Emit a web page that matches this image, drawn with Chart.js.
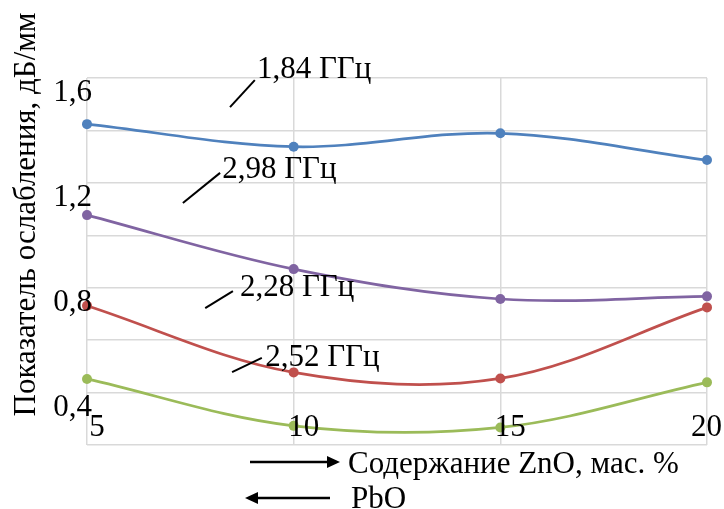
<!DOCTYPE html>
<html>
<head>
<meta charset="utf-8">
<script src="https://cdn.jsdelivr.net/npm/chart.js@4/dist/chart.umd.min.js"></script>
<style>
  html, body { margin: 0; padding: 0; background: #fff; }
  #wrap { width: 724px; height: 509px; }
</style>
</head>
<body>
<div id="wrap"><canvas id="chart" width="724" height="509"></canvas></div>
<script>
// ZnO content, mass %
const zno = [5, 10, 15, 20];

// attenuation, dB/mm
const f184 = [1.424, 1.338, 1.389, 1.287];
const f298 = [1.077, 0.871, 0.757, 0.767];
const f228 = [0.731, 0.477, 0.454, 0.725];
const f252 = [0.452, 0.273, 0.267, 0.439];

const yTickLabels = [1.6, 1.2, 0.8, 0.4];
const xTickLabels = [5, 10, 15, 20];

// series labels: text, text anchor (x, y), leader line from (x, y) to (x, y), in data units
const seriesNames = ['1,84 ГГц', '2,98 ГГц', '2,28 ГГц', '2,52 ГГц'];
const nameAnchorX = [9.11, 8.27, 8.70, 9.31];
const nameAnchorY = [1.600, 1.218, 0.768, 0.501];
const leaderX0 = [8.46, 7.32, 7.86, 8.51];
const leaderY0 = [1.489, 1.123, 0.722, 0.478];
const leaderX1 = [9.06, 8.22, 8.53, 9.23];
const leaderY1 = [1.592, 1.238, 0.787, 0.532];

const yTitle = 'Показатель ослабления, дБ/мм';
const xTitle = 'Содержание ZnO, мас. %';
const xTitle2 = 'PbO';

const FONT = '31px "Liberation Serif", "Times New Roman", serif';

const pts = ys => ys.map((y, i) => ({ x: zno[i], y }));

function series(data, color) {
  return {
    data: pts(data),
    borderColor: color,
    backgroundColor: color,
    borderWidth: 2.7,
    pointRadius: 5,
    pointHoverRadius: 5,
    pointBorderWidth: 0,
    tension: 0.35,
    clip: false
  };
}

function arrow(ctx, x0, x1, y) {
  const dir = Math.sign(x1 - x0);
  ctx.beginPath();
  ctx.moveTo(x0, y);
  ctx.lineTo(x1 - dir * 10, y);
  ctx.lineWidth = 2.5;
  ctx.strokeStyle = '#000';
  ctx.stroke();
  ctx.beginPath();
  ctx.moveTo(x1, y);
  ctx.lineTo(x1 - dir * 13, y - 6);
  ctx.lineTo(x1 - dir * 13, y + 6);
  ctx.closePath();
  ctx.fillStyle = '#000';
  ctx.fill();
}

const textPlugin = {
  id: 'texts',
  afterDatasetsDraw(chart) {
    const { ctx, chartArea: a, scales: { x, y } } = chart;
    ctx.save();
    ctx.font = FONT;
    ctx.fillStyle = '#000';

    // y tick labels
    ctx.textAlign = 'right';
    ctx.textBaseline = 'alphabetic';
    yTickLabels.forEach(v => {
      ctx.fillText(v.toFixed(1).replace('.', ','), a.left + 5, y.getPixelForValue(v) + 23);
    });

    // x tick labels, inside the plot
    ctx.textAlign = 'center';
    xTickLabels.forEach(v => {
      const s = String(v);
      const w = ctx.measureText(s).width;
      const cx = Math.min(x.getPixelForValue(v) + 10, chart.width - 2 - w / 2);
      ctx.fillText(s, cx, a.bottom - 9);
    });

    // series names with leader lines
    ctx.textAlign = 'left';
    ctx.strokeStyle = '#000';
    ctx.lineWidth = 2;
    seriesNames.forEach((n, i) => {
      ctx.beginPath();
      ctx.moveTo(x.getPixelForValue(leaderX0[i]), y.getPixelForValue(leaderY0[i]));
      ctx.lineTo(x.getPixelForValue(leaderX1[i]), y.getPixelForValue(leaderY1[i]));
      ctx.stroke();
      ctx.fillText(n, x.getPixelForValue(nameAnchorX[i]), y.getPixelForValue(nameAnchorY[i]));
    });

    // y axis title
    ctx.save();
    ctx.translate(35, (a.top + a.bottom) / 2 - 47);
    ctx.rotate(-Math.PI / 2);
    ctx.textAlign = 'center';
    ctx.fillText(yTitle, 0, 0);
    ctx.restore();

    // x axis titles with arrows
    arrow(ctx, 250, 340, a.bottom + 17);
    ctx.textAlign = 'left';
    ctx.fillText(xTitle, 348, a.bottom + 28);
    arrow(ctx, 330, 245, a.bottom + 53);
    ctx.fillText(xTitle2, 351, a.bottom + 63);

    ctx.restore();
  }
};

new Chart(document.getElementById('chart'), {
  type: 'line',
  data: {
    datasets: [
      series(f184, '#4F81BD'),
      series(f298, '#8064A2'),
      series(f228, '#C0504D'),
      series(f252, '#9BBB59')
    ]
  },
  options: {
    responsive: false,
    animation: false,
    layout: { padding: { left: 87, right: 17, top: 78, bottom: 64 } },
    plugins: { legend: { display: false }, tooltip: { enabled: false } },
    scales: {
      x: {
        type: 'linear',
        min: 5,
        max: 20,
        ticks: { display: false, stepSize: 5 },
        grid: { color: '#d9d9d9', lineWidth: 1.5, drawTicks: false },
        border: { display: false }
      },
      y: {
        min: 0.2,
        max: 1.6,
        ticks: { display: false, stepSize: 0.2 },
        grid: { color: '#d9d9d9', lineWidth: 1.5, drawTicks: false },
        border: { display: false }
      }
    }
  },
  plugins: [textPlugin]
});
</script>
</body>
</html>
